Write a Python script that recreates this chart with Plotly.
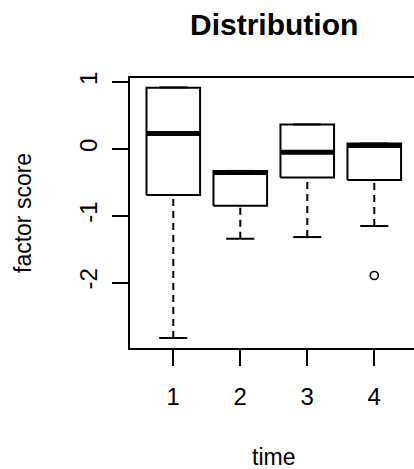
import plotly.graph_objects as go

# Box-plot summary statistics per time point
times = [1, 2, 3, 4]
upper_whisker = [0.92, -0.33, 0.365, 0.08]
q3 = [0.915, -0.33, 0.365, 0.08]
median = [0.23, -0.355, -0.05, 0.05]
q1 = [-0.69, -0.85, -0.43, -0.465]
lower_whisker = [-2.83, -1.345, -1.32, -1.155]
outlier_time = [4]
outlier_value = [-1.895]

x_ticks = [1, 2, 3, 4]
y_ticks = [-2, -1, 0, 1]

HALF_BOX = 0.4
HALF_CAP = 0.21
FONT = "Liberation Sans, Arial, Helvetica, sans-serif"

box_x, box_y = [], []
med_x, med_y = [], []
wh_x, wh_y = [], []
cap_x, cap_y = [], []
for t, uw, h3, m, h1, lw in zip(times, upper_whisker, q3, median, q1, lower_whisker):
    box_x += [t - HALF_BOX, t + HALF_BOX, t + HALF_BOX, t - HALF_BOX, t - HALF_BOX, None]
    box_y += [h1, h1, h3, h3, h1, None]
    med_x += [t - HALF_BOX, t + HALF_BOX, None]
    med_y += [m, m, None]
    # whiskers run from the staple towards the hinge
    wh_x += [t, t, None]
    wh_y += [lw, h1, None]
    if uw > h3:
        wh_x += [t, t, None]
        wh_y += [uw, h3, None]
    cap_x += [t - HALF_CAP, t + HALF_CAP, None, t - HALF_CAP, t + HALF_CAP, None]
    cap_y += [lw, lw, None, uw, uw, None]

fig = go.Figure()
fig.add_trace(go.Scatter(x=wh_x, y=wh_y, mode="lines",
                         line=dict(color="black", width=2, dash="7px,5px"),
                         hoverinfo="skip"))
fig.add_trace(go.Scatter(x=cap_x, y=cap_y, mode="lines",
                         line=dict(color="black", width=2), hoverinfo="skip"))
fig.add_trace(go.Scatter(x=box_x, y=box_y, mode="lines",
                         line=dict(color="black", width=2), hoverinfo="skip"))
fig.add_trace(go.Scatter(x=med_x, y=med_y, mode="lines",
                         line=dict(color="black", width=5), hoverinfo="skip"))
fig.add_trace(go.Scatter(x=outlier_time, y=outlier_value, mode="markers",
                         marker=dict(symbol="circle-open", size=8, color="black",
                                     line=dict(width=1.6)),
                         hoverinfo="skip"))

fig.update_layout(
    width=414, height=469,
    margin=dict(l=130, r=0, t=78, b=121, pad=0),
    paper_bgcolor="white", plot_bgcolor="white",
    showlegend=False,
    font=dict(family=FONT, color="black", size=24),
    xaxis=dict(range=[0.354, 4.593], tickvals=x_ticks, ticktext=[str(v) for v in x_ticks],
               showgrid=False, zeroline=False, showline=True, linecolor="black",
               linewidth=2, mirror=True, ticks="outside", ticklen=16, tickwidth=2,
               tickcolor="black", ticklabelstandoff=10,
               tickfont=dict(family=FONT, size=24, color="black")),
    yaxis=dict(range=[-2.98, 1.06], tickvals=y_ticks, ticktext=[str(v) for v in y_ticks],
               showgrid=False, zeroline=False, showline=True, linecolor="black",
               linewidth=2, mirror=False, ticks="outside", ticklen=16, tickwidth=2,
               tickcolor="black", tickangle=-90, ticklabelstandoff=5,
               tickfont=dict(family=FONT, size=24, color="black")),
    annotations=[
        dict(text="<b>Distribution</b>", x=2.5, xref="x", y=1, yref="paper",
             yshift=54, xanchor="center", yanchor="middle", showarrow=False,
             font=dict(family=FONT, size=30, color="black")),
        dict(text="time", x=2.5, xref="x", y=0, yref="paper", yshift=-109,
             xanchor="center", yanchor="middle", showarrow=False,
             font=dict(family=FONT, size=23, color="black")),
        dict(text="factor score", x=0, xref="paper", xshift=-107, y=0.5, yref="paper",
             xanchor="center", yanchor="middle", textangle=-90, showarrow=False,
             font=dict(family=FONT, size=23, color="black")),
    ],
)

fig.write_html("out.html")
